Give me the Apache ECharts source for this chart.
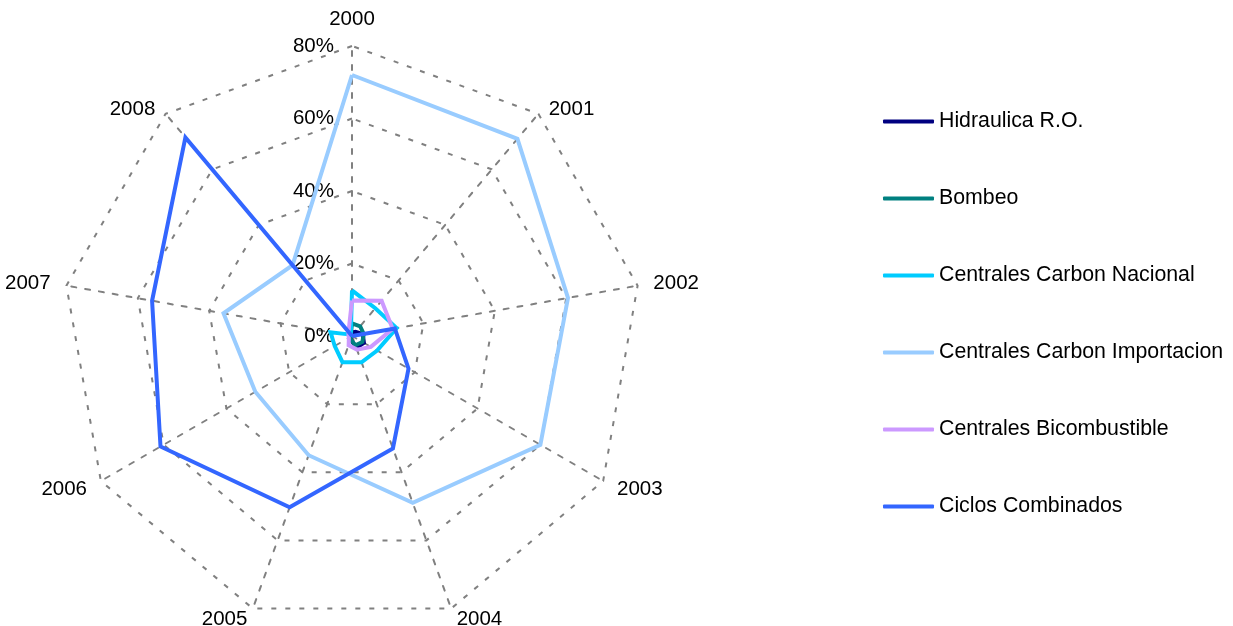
<!DOCTYPE html>
<html>
<head>
<meta charset="utf-8">
<script src="https://cdn.jsdelivr.net/npm/echarts@6/dist/echarts.min.js"></script>
<style>
html,body{margin:0;padding:0;background:#ffffff;}
#chart{width:1233px;height:626px;}
</style>
</head>
<body>
<div id="chart"></div>
<script>
// ---- data (percent) ----
const years = ['2000','2001','2002','2003','2004','2005','2006','2007','2008'];
const tickLabels = ['0%','20%','40%','60%','80%'];
const hidraulica        = [1.0, 1.5, 3.0, 3.8, 3.5, 1.0, 0.5, 0.5, 0.5];
const bombeo            = [3.5, 3.5, 3.3, 3.3, 2.7, 1.0, 0.5, 0.5, 0.5];
const carbonNacional    = [12.6, 10.0, 12.5, 8.0, 7.7, 7.7, 5.5, 6.0, 0.5];
const carbonImportacion = [72.0, 71.0, 60.5, 60.0, 49.0, 35.0, 30.8, 36.0, 25.5];
const bicombustible     = [9.8, 12.7, 11.4, 6.0, 4.0, 2.7, 1.0, 1.0, 1.5];
const ciclosCombinados  = [0.0, 0.0, 12.0, 18.0, 33.0, 50.3, 61.0, 56.0, 71.5];
const seriesNames = ['Hidraulica R.O.','Bombeo','Centrales Carbon Nacional','Centrales Carbon Importacion','Centrales Bicombustible','Ciclos Combinados'];
const seriesValues = [hidraulica, bombeo, carbonNacional, carbonImportacion, bicombustible, ciclosCombinados];

// ECharts radar runs counter-clockwise; the reference runs clockwise,
// so indicators are fed as 2000, 2008, 2007, ... 2001.
const order = [0].concat(years.map(function(_, i){ return i; }).slice(1).reverse());
function reorder(arr){ return order.map(function(i){ return arr[i]; }); }

// ---- styles ----
const FONT = '"Liberation Sans", Arial, sans-serif';
const colors = ['#000080','#008080','#00CCFF','#99CCFF','#CC99FF','#3366FF'];
const gridStyle = {color:'#808080', width:2, type:[5,9]};

const chart = echarts.init(document.getElementById('chart'), null, {renderer:'canvas'});

const indicators = reorder(years).map(function(y, i){
  const ind = {name: y, min: 0, max: 80};
  if (i === 0) {
    ind.axisLabel = {
      show: true,
      color: '#000',
      fontSize: 20.5,
      fontFamily: FONT,
      margin: 18,
      formatter: function(v){ return tickLabels[Math.round(v/20)]; }
    };
  } else {
    ind.axisLabel = {show:false};
  }
  return ind;
});

const richBase = {color:'#000', fontSize:20.5, fontFamily:FONT};
const option = {
  backgroundColor:'#ffffff',
  animation:false,
  legend:{
    orient:'vertical',
    left:878,
    top:106,
    itemWidth:51,
    itemHeight:4,
    itemGap:56,
    icon:'roundRect',
    textStyle:{color:'#000', fontSize:21.3, fontFamily:FONT},
    data: seriesNames
  },
  radar:{
    center:[352,336],
    radius:290,
    startAngle:90,
    shape:'polygon',
    splitNumber:4,
    indicator: indicators,
    axisName:{
      color:'#000',
      fontSize:20.5,
      fontFamily:FONT,
      formatter:function(name){
        if (name === '2001' || name === '2008') return '{dn|' + name + '}';
        if (name === '2004' || name === '2005') return '{up|' + name + '}';
        return '{n|' + name + '}';
      },
      rich:{
        n: richBase,
        dn: Object.assign({padding:[16,0,0,0]}, richBase),
        up: Object.assign({padding:[0,0,8,0]}, richBase)
      }
    },
    nameGap:16,
    axisLine:{show:true, lineStyle:gridStyle},
    splitLine:{show:true, lineStyle:gridStyle},
    splitArea:{show:false},
    axisTick:{show:false},
    axisLabel:{show:false}
  },
  series: seriesNames.map(function(name, i){
    return {
      type:'radar',
      name:name,
      symbol:'none',
      z: 2 + i,
      lineStyle:{color:colors[i], width:4, join:'miter'},
      itemStyle:{color:colors[i]},
      data:[{name:name, value:reorder(seriesValues[i])}]
    };
  })
};
chart.setOption(option);
</script>
</body>
</html>
